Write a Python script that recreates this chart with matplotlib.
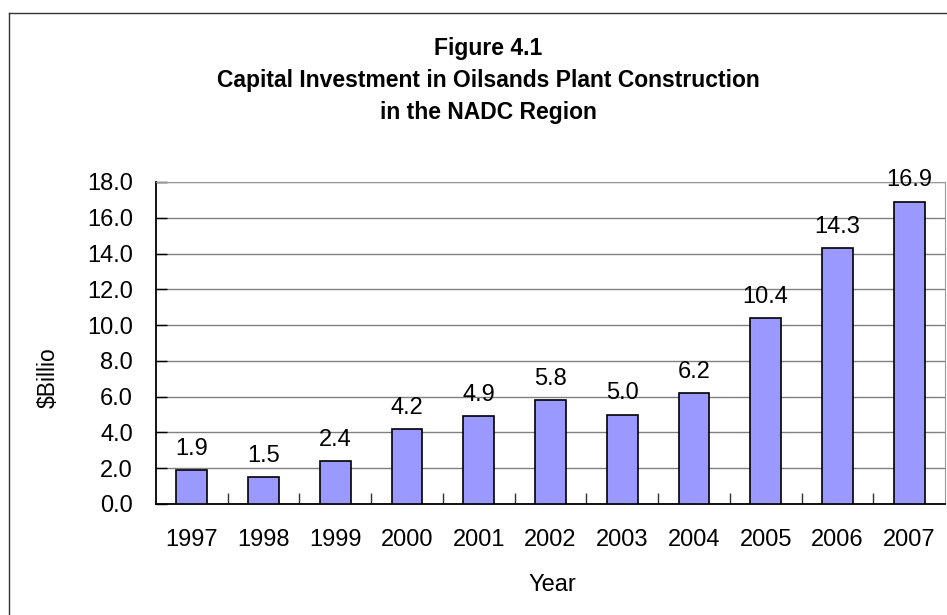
"""Figure 4.1: capital investment in oilsands plant construction, NADC region."""

import matplotlib

matplotlib.use("Agg")
import matplotlib.pyplot as plt
from matplotlib.lines import Line2D

years = ["1997", "1998", "1999", "2000", "2001", "2002", "2003", "2004", "2005", "2006", "2007"]
investment = [1.9, 1.5, 2.4, 4.2, 4.9, 5.8, 5.0, 6.2, 10.4, 14.3, 16.9]
y_ticks = [0, 2, 4, 6, 8, 10, 12, 14, 16, 18]
title_lines = [
    "Figure 4.1",
    "Capital Investment in Oilsands Plant Construction",
    "in the NADC Region",
]

plt.rcParams["font.family"] = ["Liberation Sans", "DejaVu Sans"]

W, H = 947, 615
fig = plt.figure(figsize=(W / 100, H / 100), dpi=100)
fig.patch.set_facecolor("white")

# outer chart frame (only top and left edges visible in the crop)
fig.add_artist(Line2D([9 / W, 1.0], [1 - 13 / H, 1 - 13 / H], color="#333333", linewidth=1.0))
fig.add_artist(Line2D([9 / W, 9 / W], [1 - 13 / H, 0.0], color="#333333", linewidth=1.0))

ax = fig.add_axes([156 / W, 1 - 504 / H, (945 - 156) / W, (504 - 182) / H])

x = list(range(len(years)))
ax.bar(x, investment, width=0.43, color="#9999ff", edgecolor="black", linewidth=1.2, zorder=3)

for xi, v in zip(x, investment):
    ax.annotate(f"{v:.1f}", (xi, v), xytext=(0, 11), textcoords="offset points",
                ha="center", va="baseline", fontsize=17, zorder=5, annotation_clip=False)

ax.set_xlim(-0.5, len(years) - 0.5)
ax.set_ylim(0, 18)
ax.set_yticks(y_ticks)
ax.set_yticklabels([f"{t:.1f}" for t in y_ticks])
ax.set_xticks(x)
ax.set_xticklabels(years)
ax.set_xticks([i + 0.5 for i in x[:-1]], minor=True)

ax.tick_params(axis="x", which="major", length=0, pad=18, labelsize=17)
ax.tick_params(axis="x", which="minor", direction="in", length=8, width=1.0, color="#333333")
ax.tick_params(axis="y", direction="in", length=8, width=1.0, pad=16.5, labelsize=17)

ax.grid(axis="y", color="#808080", linewidth=1.0, zorder=0)
ax.set_axisbelow(True)
for side in ("top", "right"):
    ax.spines[side].set_color("#999999")
for side in ("left", "bottom"):
    ax.spines[side].set_color("black")
    ax.spines[side].set_linewidth(1.3)

for ty, line in zip([48, 80, 112], title_lines):
    fig.text(488 / W, 1 - ty / H, line, ha="center", va="center", fontsize=16.5, fontweight="bold")

fig.text(48 / W, 1 - 378 / H, "$Billio", rotation=90, ha="center", va="center", fontsize=16.5)
fig.text(552 / W, 1 - 585 / H, "Year", ha="center", va="center", fontsize=17)

fig.savefig("out.png", dpi=100, facecolor=fig.get_facecolor())
